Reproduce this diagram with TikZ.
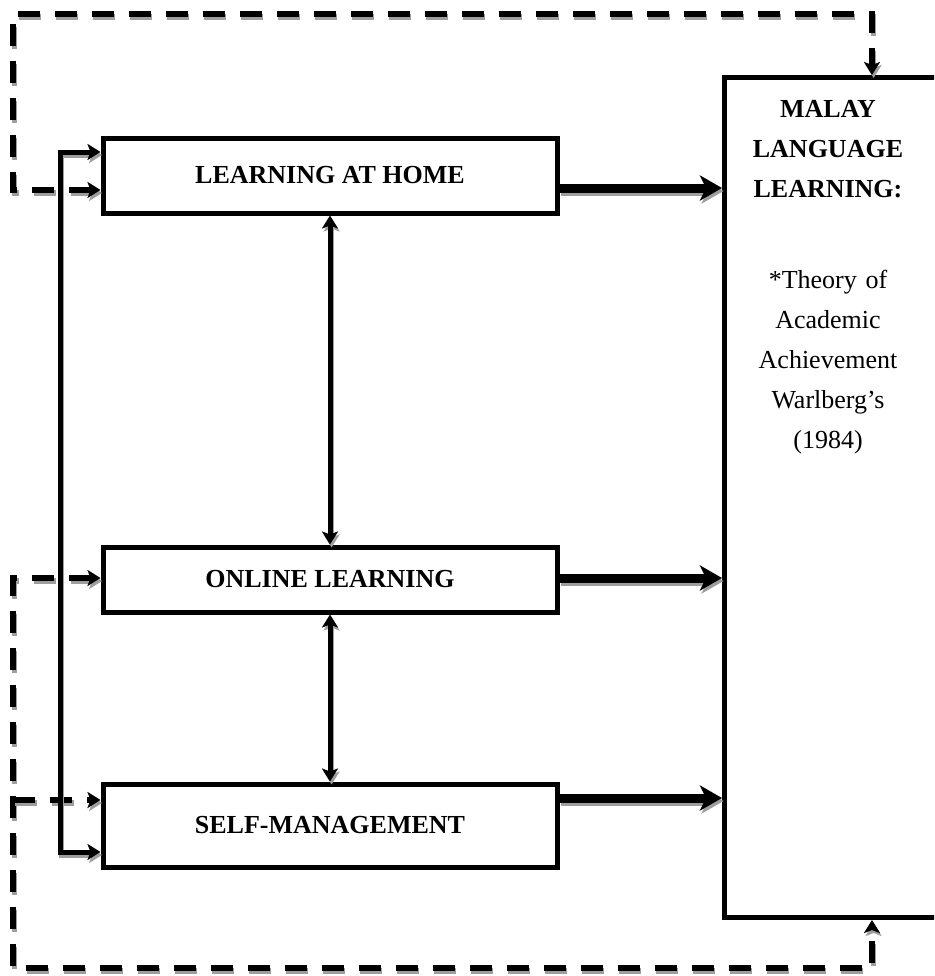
\documentclass[tikz,border=0pt]{standalone}
\usepackage{fontspec}
\setmainfont{Liberation Serif}
\usetikzlibrary{arrows.meta}
\begin{document}
\begin{tikzpicture}[x=0.5pt,y=-0.5pt,
  shadowed/.style={preaction={draw=black!38,transform canvas={shift={(0.8pt,-1.5pt)}},#1}},
  box/.style={draw,line width=2.5pt,fill=white,minimum width=227pt,inner sep=0pt,
    font=\fontsize{13}{15}\selectfont\bfseries},
  tip/.style={-{Stealth[length=6.5pt,width=8pt,inset=1.5pt]}},
  twotip/.style={{Stealth[length=6.5pt,width=8pt,inset=1.5pt]}-{Stealth[length=6.5pt,width=8pt,inset=1.5pt]}},
  link/.style={line width=2.5pt,shadowed={line width=2.5pt}},
  dlink/.style={line width=2.8pt,dash pattern=on 11pt off 7.5pt,
    shadowed={line width=2.8pt,dash pattern=on 11pt off 7.5pt}},
  biglink/.style={line width=4.5pt,-{Stealth[length=11pt,width=12.5pt,inset=3pt]},
    shadowed={line width=4.5pt}},
  txt/.style={text width=115pt,align=center,inner sep=0pt,anchor=base,font=\fontsize{13}{20}\selectfont}
]
\useasboundingbox (0,0) rectangle (934,976);
\clip (0,0) rectangle (934,976);

% nodes
\node[box,minimum height=37.5pt] (lah) at (330,175.5) {LEARNING AT HOME};
\node[box,minimum height=32.5pt] (ol) at (330,579.5) {ONLINE LEARNING};
\node[box,minimum height=41.5pt] (sm) at (330,825.5) {SELF-MANAGEMENT};
\node[draw,line width=2.5pt,minimum width=130pt,minimum height=420pt,anchor=north west,inner sep=0pt] (mll) at (722,75) {};
\node[txt,font=\fontsize{13}{20}\selectfont\bfseries] (mllt) at (828,117) {MALAY\\LANGUAGE\\LEARNING:};
\node[txt] (mllb) at (828,288) {*Theory of\\Academic\\Achievement\\Warlberg’s\\(1984)};

% helper coordinates
\coordinate (xD) at (13,0);
\coordinate (xS) at (60,0);
\coordinate (xR) at (872,0);
\coordinate (y152) at (0,152);
\coordinate (y190) at (0,190);
\coordinate (y188) at (0,188);
\coordinate (y578) at (0,578);
\coordinate (y800) at (0,800);
\coordinate (y798) at (0,798);
\coordinate (y852) at (0,852);
\coordinate (cTL) at (13,14);
\coordinate (cTR) at (872,14);
\coordinate (cBL) at (13,968);
\coordinate (cBR) at (872,968);

% dashed feedback loop
\draw[dlink,twotip] (lah.west |- y190) -- (xD |- y190) -- (cTL) -- (cTR) -- (mll.north -| xR);
\draw[dlink,twotip] (ol.west |- y578) -- (xD |- y578) -- (cBL) -- (cBR) -- (mll.south -| xR);
\draw[dlink,tip] (xD |- y800) -- (sm.west |- y800);

% solid left bracket
\draw[link,twotip] (lah.west |- y152) -- (xS |- y152) -- (xS |- y852) -- (sm.west |- y852);

% vertical double arrows
\draw[link,twotip] (lah.south) -- (ol.north);
\draw[link,twotip] (ol.south) -- (sm.north);

% thick arrows to the right box
\draw[biglink] (lah.east |- y188) -- (mll.west |- y188);
\draw[biglink] (ol.east |- y578) -- (mll.west |- y578);
\draw[biglink] (sm.east |- y798) -- (mll.west |- y798);
\end{tikzpicture}
\end{document}
